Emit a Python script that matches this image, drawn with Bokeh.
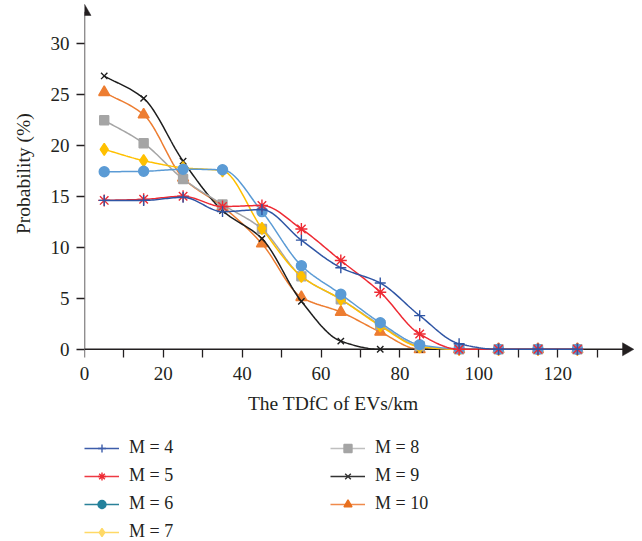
import numpy as np
from bokeh.plotting import figure
from bokeh.models import (Range1d, FixedTicker, SingleIntervalTicker, Arrow,
                          Legend, LegendItem, LinearAxis)
from bokeh.layouts import column
from bokeh.embed import file_html
from bokeh.resources import INLINE

# ---------------- data ----------------
distance = [5, 15, 25, 35, 45, 55, 65, 75, 85, 95, 105, 115, 125]
m4 = [14.6, 14.6, 14.9, 13.5, 13.7, 10.7, 8.0, 6.5, 3.3, 0.55, 0, 0, 0]
m5 = [14.6, 14.7, 15.0, 14.0, 14.1, 11.8, 8.7, 5.6, 1.5, 0, 0, 0, 0]
m6 = [17.4, 17.45, 17.65, 17.6, 13.5, 8.2, 5.4, 2.6, 0.45, 0.05, 0, 0, 0]
m7 = [19.6, 18.5, 17.8, 17.5, 11.85, 7.15, 4.9, 2.3, 0.25, 0, 0, 0, 0]
m8 = [22.45, 20.2, 16.7, 14.2, 11.8, 7.15, 4.9, 2.4, 0.3, 0, 0, 0, 0]
m9 = [26.8, 24.6, 18.45, 13.6, 10.85, 4.7, 0.8, 0.0, 0, 0, 0, 0, 0]
m10 = [25.2, 23.0, 16.8, 14.0, 10.35, 5.1, 3.65, 1.7, 0.0, 0, 0, 0, 0]

labels = ["M = 4", "M = 5", "M = 6", "M = 7", "M = 8", "M = 9", "M = 10"]
series = [m4, m5, m6, m7, m8, m9, m10]

x_major_ticks = [0, 20, 40, 60, 80, 100, 120]
x_minor_ticks = [10, 30, 50, 70, 90, 110, 130]
y_tick_interval = 5

x_title = "The TDfC of EVs/km"
y_title = "Probability (%)"

# ---------------- styles ----------------
plot_colors = ["#2f55a4", "#ee2a33", "#5b9bd5", "#ffc000", "#a5a5a5", "#1e1e1e", "#ed7d31"]
legend_line_colors = ["#3d5daa", "#ee3a43", "#2a8199", "#ffd966", "#bfbfbf", "#333333", "#f08a4b"]
legend_marker_colors = ["#3d5daa", "#ee2a33", "#23819c", "#ffd966", "#a5a5a5", "#333333", "#e8701e"]
markers = ["cross", "asterisk", "circle", "diamond", "square", "x", "triangle"]
sizes = [11, 12, 10, 12, 9, 9, 11]
filled = [False, False, True, True, True, False, True]

INK = "#231f20"
FONT = "Liberation Serif"


def smooth(xs, ys, n=20):
    """Monotone cubic (PCHIP) curve through the data points (rendering only)."""
    x = np.asarray(xs, float)
    y = np.asarray(ys, float)
    h = np.diff(x)
    d = np.diff(y) / h
    m = np.zeros_like(y)
    m[0], m[-1] = d[0], d[-1]
    for k in range(1, len(x) - 1):
        if d[k - 1] * d[k] > 0:
            w1 = 2 * h[k] + h[k - 1]
            w2 = h[k] + 2 * h[k - 1]
            m[k] = (w1 + w2) / (w1 / d[k - 1] + w2 / d[k])
    t = np.linspace(0, 1, n, endpoint=False)
    h00 = 2 * t ** 3 - 3 * t ** 2 + 1
    h10 = t ** 3 - 2 * t ** 2 + t
    h01 = -2 * t ** 3 + 3 * t ** 2
    h11 = t ** 3 - t ** 2
    ox, oy = [], []
    for k in range(len(x) - 1):
        ox.extend(x[k] + t * h[k])
        oy.extend(h00 * y[k] + h10 * h[k] * m[k] + h01 * y[k + 1] + h11 * h[k] * m[k + 1])
    ox.append(x[-1])
    oy.append(y[-1])
    return ox, oy


X_END = 141.0
Y_END = 34.0
X_HEAD = 137.4      # centre of the x-axis arrow head
Y_HEAD = 33.1       # centre of the y-axis arrow head

p = figure(frame_width=556, frame_height=357,
           x_range=Range1d(0, X_END), y_range=Range1d(-1, Y_END),
           output_backend="svg", toolbar_location=None,
           min_border_left=84, min_border_right=0,
           min_border_top=2, min_border_bottom=78)
p.outline_line_color = None
p.grid.grid_line_color = None

# axis lines (drawn under the data)
p.add_layout(Arrow(end=None, x_start=0, y_start=0, x_end=X_HEAD, y_end=0,
                   line_color=INK, line_width=1.4, level="underlay"))
p.add_layout(Arrow(end=None, x_start=0, y_start=0, x_end=0, y_end=Y_HEAD,
                   line_color=INK, line_width=1.4, level="underlay"))

# draw series (last series first so M = 4 ends on top)
for i in reversed(range(len(series))):
    sx, sy = smooth(distance, series[i])
    c = plot_colors[i]
    p.line(sx, sy, line_color=c, line_width=1.5)
    p.scatter(distance, series[i], marker=markers[i], size=sizes[i],
              line_color=c, fill_color=c if filled[i] else None,
              line_width=1.4)

# arrow heads
p.scatter([0, X_HEAD], [Y_HEAD, 0], marker="triangle", size=13,
          angle=[0, -np.pi / 2], fill_color=INK, line_color=INK, line_width=0.5)

# label axis (at frame bottom, no ticks)
xa = p.xaxis[0]
xa.ticker = FixedTicker(ticks=x_major_ticks)
xa.axis_line_color = None
xa.major_tick_line_color = None
xa.minor_tick_line_color = None
xa.major_tick_out = 0
xa.major_tick_in = 0
xa.minor_tick_out = 0
xa.minor_tick_in = 0
xa.major_label_standoff = 7
# no-break spaces shift the centred titles, as placed in the original
xa.axis_label = x_title + "\u00a0" * 12
xa.axis_label_standoff = 10

# tick axis fixed at y = 0
xt = LinearAxis(ticker=FixedTicker(ticks=x_major_ticks, minor_ticks=x_minor_ticks),
                fixed_location=0, axis_line_color=None,
                major_label_text_alpha=0)
p.add_layout(xt, "below")

ya = p.yaxis[0]
ya.ticker = SingleIntervalTicker(interval=y_tick_interval, num_minor_ticks=0)
ya.axis_line_color = None
ya.axis_label = "\u00a0" * 3 + y_title
ya.major_label_standoff = 7
ya.axis_label_standoff = 14

for ax in (xa, xt, ya):
    ax.major_label_text_font = FONT
    ax.major_label_text_font_size = "19px"
    ax.major_label_text_color = INK
    ax.axis_label_text_font = FONT
    ax.axis_label_text_font_size = "19.5px"
    ax.axis_label_text_font_style = "normal"
    ax.axis_label_text_color = INK

for ax in (xt, ya):
    ax.major_tick_in = 0
    ax.major_tick_out = 8
    ax.major_tick_line_color = INK
    ax.major_tick_line_width = 1.3
    ax.minor_tick_in = 0
    ax.minor_tick_out = 8
    ax.minor_tick_line_color = INK
    ax.minor_tick_line_width = 1.3

# ---------------- legend strip ----------------
# legend renderers carry the same data; the strip's ranges keep them off-view
lg = figure(width=640, height=104, x_range=Range1d(0, 1), y_range=Range1d(0, 1),
            output_backend="svg", toolbar_location=None,
            min_border_left=78, min_border_right=0, min_border_top=0,
            min_border_bottom=0)
lg.axis.visible = False
lg.grid.visible = False
lg.outline_line_color = None

items = []
for i, lab in enumerate(labels):
    lr = lg.line(distance, series[i], line_color=legend_line_colors[i], line_width=1.6)
    mc = legend_marker_colors[i]
    sr = lg.scatter(distance, series[i], marker=markers[i], size=sizes[i],
                    line_color=mc, fill_color=mc if filled[i] else None,
                    line_width=1.4)
    items.append(LegendItem(label=lab, renderers=[lr, sr]))

legend = Legend(items=items, location="top_left", orientation="vertical", nrows=4,
                margin=0, padding=7, spacing=7,
                glyph_width=35, glyph_height=20, label_height=20,
                label_width=194, label_standoff=10,
                label_text_font=FONT, label_text_font_size="18px",
                label_text_color=INK,
                border_line_color=None, background_fill_alpha=0)
lg.add_layout(legend, "center")

layout = column(p, lg, spacing=0)
open("out.html", "w").write(file_html(layout, INLINE))
